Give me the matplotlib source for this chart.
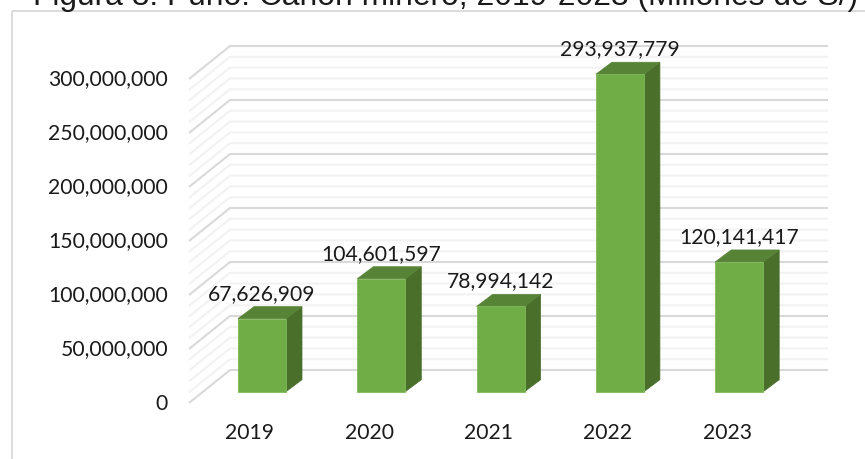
import numpy as np
import matplotlib
matplotlib.use("Agg")
import matplotlib.pyplot as plt
from matplotlib.patches import Polygon, Rectangle

# datos
years = ['2019', '2020', '2021', '2022', '2023']
values = [67626909, 104601597, 78994142, 293937779, 120141417]
value_labels = ['67,626,909', '104,601,597', '78,994,142', '293,937,779', '120,141,417']
major_ticks = [0, 50000000, 100000000, 150000000, 200000000, 250000000, 300000000]
tick_labels = ['0', '50,000,000', '100,000,000', '150,000,000', '200,000,000', '250,000,000', '300,000,000']
minor_ticks = [v * 10000000 for v in range(31) if v % 5 != 0 and v < 30]
title = 'Figura 8. Puno: Canon minero, 2019-2023 (Millones de S/)'

W, H = 865, 459
fig = plt.figure(figsize=(W / 100, H / 100), dpi=100)
ax = fig.add_axes([0, 0, 1, 1])
ax.axis('off')

# escalas: una categoria = 119.3 px, 1 millon = 1.08 px
sx = 119.3
sy = 1.08e-6
x0 = 262.0
y0 = 391.7
ax.set_xlim(-x0 / sx, (W - x0) / sx)
ax.set_ylim((y0 - H) / sy, y0 / sy)


def px(dx):
    return dx / sx


def py(dy):
    return dy / sy


# marco
ax.add_patch(Rectangle((px(12.5 - x0), py(y0 - 10.5)), px(W + 20), -py(H + 20), fill=False,
                       ec='#d9d9d9', lw=1.3, zorder=1))

# rejilla: pared izquierda y pared de fondo
left_front = px(189 - x0)
left_back = px(230 - x0)
right_back = px(828 - x0)
front_dy = py(-11.3)
back_dy = py(21.7)
for v in minor_ticks:
    ax.plot([left_front, left_back, right_back], [v + front_dy, v + back_dy, v + back_dy],
            color='#f2f2f2', lw=1.5, zorder=2, solid_joinstyle='miter', solid_capstyle='butt')
for v in major_ticks:
    ax.plot([left_front, left_back, right_back], [v + front_dy, v + back_dy, v + back_dy],
            color='#d9d9d9', lw=1.5, zorder=3, solid_joinstyle='miter', solid_capstyle='butt')

# barras 3d
bw = px(48)
depth_x = px(16)
depth_y = py(12)
for i, v in enumerate(values):
    l = i - bw / 2
    r = i + bw / 2
    ax.add_patch(Polygon([(r, 0), (r + depth_x, depth_y), (r + depth_x, v + depth_y), (r, v)],
                         fc='#4a6f2b', ec='#4a6f2b', lw=0.5, zorder=5))
    ax.add_patch(Polygon([(l, v), (l + depth_x, v + depth_y), (r + depth_x, v + depth_y), (r, v)],
                         fc='#578336', ec='#578336', lw=0.5, zorder=5))
    ax.add_patch(Rectangle((l, 0), bw, v, fc='#70ad47', ec='#7fb85a', lw=0.6, zorder=6))

font = 'Lato'
fs = 15.2
for v, lab in zip(major_ticks, tick_labels):
    ax.text(px(168 - x0), v + front_dy + py(-0.5), lab, ha='right', va='center', family=font, fontsize=fs,
            color='#1a1a1a', zorder=8)
for i, y in enumerate(years):
    ax.text(i - px(12), py(y0 - 433), y, ha='center', va='center', family=font, fontsize=fs,
            color='#1a1a1a', zorder=8)
for i, v in enumerate(values):
    ax.text(i, v + py(25), value_labels[i], ha='center', va='center', family=font, fontsize=fs,
            color='#1a1a1a', zorder=8)

# titulo, cortado por arriba como en el original
ax.text(px(445.5 - x0), py(y0 - 4.5), title, ha='center', va='baseline', family='Liberation Sans',
        fontsize=22.85, color='#1a1a1a', zorder=8)

fig.savefig('out.png', dpi=100)
